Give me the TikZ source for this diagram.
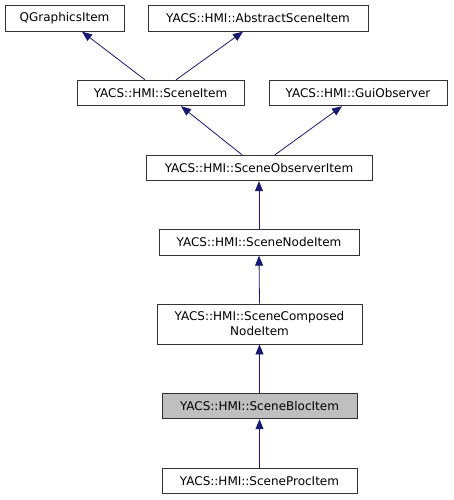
\documentclass[tikz,border=0pt]{standalone}
\usepackage{fontspec}
\setmainfont{DejaVu Sans}
\usepackage{xcolor}
\usetikzlibrary{arrows.meta, calc, positioning}
\definecolor{edgeblue}{RGB}{25,25,112}
\definecolor{boxgrey}{RGB}{191,191,191}

\begin{document}
\begin{tikzpicture}[x=1pt, y=-1pt,
  cls/.style={draw=black!80, line width=0.9pt, fill=white, rectangle, inner sep=0pt, minimum height=25.5pt, font=\fontsize{12}{15}\selectfont, align=center},
  inherit/.style={edgeblue, line width=0.8pt, -{Triangle[length=10pt, width=8pt]}}]
\useasboundingbox (0,0) rectangle (453,500);
% Classes
\node[cls, minimum width=119pt] (QG) at (64.5,18.5) {QGraphicsItem};
\node[cls, minimum width=220pt] (AS) at (258,18.5) {YACS::HMI::AbstractSceneItem};
\node[cls, minimum width=167pt] (SI) at (160.5,93) {YACS::HMI::SceneItem};
\node[cls, minimum width=178pt] (GO) at (358,93) {YACS::HMI::GuiObserver};
\node[cls, minimum width=226pt] (SO) at (259,168) {YACS::HMI::SceneObserverItem};
\node[cls, minimum width=200pt] (SN) at (259,242.5) {YACS::HMI::SceneNodeItem};
\node[cls, minimum width=205pt, minimum height=40pt] (SC) at (259.5,324) {YACS::HMI::SceneComposed\\NodeItem};
\node[cls, minimum width=195pt, fill=boxgrey] (SB) at (259.5,406) {YACS::HMI::SceneBlocItem};
\node[cls, minimum width=195pt] (SP) at (259.5,481) {YACS::HMI::SceneProcItem};

% Inheritance
\draw[inherit] ([xshift=-15.5pt]SI.north) -- ([xshift=17.5pt]QG.south);
\draw[inherit] ([xshift=15.5pt]SI.north) -- ([xshift=-15pt]AS.south);
\draw[inherit] ([xshift=-17pt]SO.north) -- ([xshift=20.5pt]SI.south);
\draw[inherit] ([xshift=16pt]SO.north) -- ([xshift=-16pt]GO.south);
\draw[inherit] (SN.north) -- (SO.south);
\draw[inherit] (SC.north) -- (SN.south);
\draw[inherit] (SB.north) -- (SC.south);
\draw[inherit] (SP.north) -- (SB.south);
\end{tikzpicture}
\end{document}
